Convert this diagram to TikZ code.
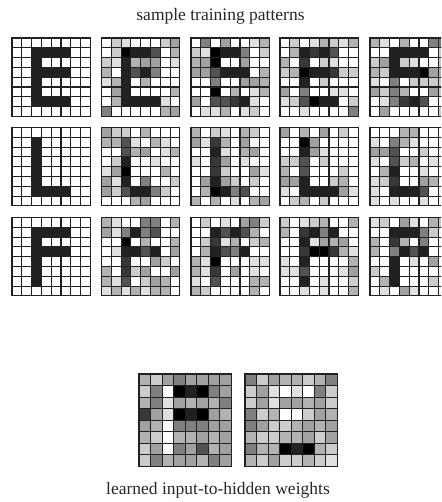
\documentclass[tikz,border=0pt]{standalone}
\usepackage{fontspec}
\setmainfont{Liberation Serif}
\usetikzlibrary{positioning}

% one 8x8 grid: x, y, cell size, 64 grey digits (0 black .. 9 white)
\newcommand{\patgrid}[4]{%
  \foreach \val [count=\idx from 0] in {#4} {
    \pgfmathsetmacro{\col}{int(mod(\idx,8))}
    \pgfmathsetmacro{\row}{int(\idx/8)}
    \pgfmathsetmacro{\shade}{{100,87,78,68,50,37,30,20,12,0}[\val]}
    \draw[cellbox, fill=black!\shade]
      ({#1+\col*#3},{#2+\row*#3}) rectangle ++(#3,#3);
  }%
}

\begin{document}
\begin{tikzpicture}[
  x=1pt, y=-1pt,
  font=\fontsize{17.5}{20}\selectfont,
  cellbox/.style={draw=black!87, line width=1.1pt},
  caption/.style={text=black!85, inner sep=0pt, anchor=base}
]
\path[use as bounding box, clip] (0,0) rectangle (441,502);

\node[caption] (top) at (220.5,21) {sample training patterns};

% E row
\patgrid{12}{38}{9.8}{9,9,9,9,9,9,9,9, 9,9,1,1,1,1,9,9, 9,9,1,9,9,9,9,9, 9,9,1,1,1,1,9,9, 9,9,1,9,9,9,9,9, 9,9,1,9,9,9,9,9, 9,9,1,1,1,1,9,9, 9,9,9,9,9,9,9,9}
\patgrid{101.5}{38}{9.8}{9,7,8,9,9,9,7,5, 9,7,0,1,1,3,9,6, 7,8,1,6,5,5,9,8, 6,9,1,3,1,4,9,9, 8,6,1,9,6,9,9,9, 9,5,1,9,9,9,9,6, 9,6,1,1,1,1,8,9, 4,9,9,9,9,9,6,5}
\patgrid{191}{38}{9.8}{9,4,9,5,9,9,8,6, 7,8,0,1,1,4,9,7, 6,5,0,9,9,5,9,9, 5,5,3,1,1,1,9,6, 9,9,4,9,9,5,5,6, 9,9,0,9,6,9,8,6, 5,9,3,3,2,1,8,9, 9,8,8,6,9,8,7,9}
\patgrid{280}{38}{9.8}{9,7,9,8,6,7,8,6, 9,6,1,2,1,3,9,9, 6,9,2,9,7,8,9,9, 7,6,0,1,1,2,7,7, 9,9,1,9,7,9,9,9, 5,9,4,9,9,8,8,9, 8,7,3,0,1,1,9,7, 9,9,8,9,9,9,9,4}
\patgrid{370}{38}{9.8}{6,8,9,6,9,9,4,4, 9,9,1,1,1,1,9,7, 7,5,1,7,8,9,9,7, 6,7,1,1,1,0,5,6, 8,9,4,9,7,7,7,7, 5,7,4,6,9,9,5,7, 9,8,4,2,1,3,9,9, 9,5,9,9,9,9,9,7}

% L row
\patgrid{12}{127.5}{9.8}{9,9,9,9,9,9,9,9, 9,9,1,9,9,9,9,9, 9,9,1,9,9,9,9,9, 9,9,1,9,9,9,9,9, 9,9,1,9,9,9,9,9, 9,9,1,9,9,9,9,9, 9,9,1,1,1,1,9,9, 9,9,9,9,9,9,9,9}
\patgrid{101.5}{127.5}{9.8}{5,7,7,9,6,9,9,9, 6,6,3,8,9,6,8,9, 9,9,3,6,5,9,8,6, 9,7,1,9,9,8,9,9, 8,5,0,9,9,9,6,9, 5,8,1,9,4,9,9,7, 5,7,3,1,1,4,7,9, 9,9,9,6,5,9,9,9}
\patgrid{191}{127.5}{9.8}{6,9,7,8,9,6,7,9, 5,8,2,6,9,5,9,9, 9,9,1,8,9,6,5,9, 8,9,2,5,9,8,9,9, 9,9,2,7,9,9,5,8, 9,5,1,5,7,9,7,9, 9,6,0,1,4,3,9,9, 6,9,6,9,8,9,6,5}
\patgrid{280}{127.5}{9.8}{5,9,6,9,5,9,7,9, 9,9,0,5,9,9,9,9, 9,9,1,5,8,9,9,9, 7,7,3,9,7,9,9,9, 6,9,3,9,9,9,7,9, 5,5,1,9,9,7,6,9, 8,9,1,1,1,1,5,8, 9,7,6,9,7,9,9,9}
\patgrid{370}{127.5}{9.8}{9,9,9,6,6,9,9,9, 8,9,4,6,8,9,9,9, 5,5,3,9,9,7,9,9, 8,9,3,7,6,9,8,9, 9,6,1,9,9,8,9,9, 8,7,2,9,9,5,6,9, 8,9,1,1,1,3,9,9, 8,9,8,9,9,8,9,9}

% F row
\patgrid{12}{217.5}{9.8}{9,9,9,9,9,9,9,9, 9,9,1,1,1,1,9,9, 9,9,1,9,9,9,9,9, 9,9,1,1,1,1,9,9, 9,9,1,9,9,9,9,9, 9,9,1,9,9,9,9,9, 9,9,1,9,9,9,9,9, 9,9,9,9,9,9,9,9}
\patgrid{101.5}{217.5}{9.8}{6,8,9,9,4,4,9,6, 5,8,4,1,4,3,9,9, 9,9,0,9,6,9,9,6, 9,8,1,1,3,1,9,5, 9,9,2,9,9,5,7,9, 6,9,2,7,5,9,9,5, 6,8,3,9,7,5,6,9, 8,6,8,6,8,6,6,9}
\patgrid{191}{217.5}{9.8}{9,7,9,8,9,5,4,7, 9,9,1,3,1,3,6,9, 9,7,2,8,6,9,7,6, 9,6,1,3,4,1,9,9, 6,8,0,9,9,9,8,8, 6,8,2,9,5,9,8,9, 8,9,3,9,9,9,6,6, 6,7,9,9,9,9,6,9}
\patgrid{280}{217.5}{9.8}{7,9,8,7,6,9,9,6, 6,9,2,1,4,1,9,9, 9,9,1,8,5,6,5,9, 9,9,2,0,0,2,6,8, 8,9,1,9,9,9,9,6, 8,8,3,9,9,9,8,5, 9,9,1,9,8,9,9,7, 9,9,8,9,8,9,9,6}
\patgrid{370}{217.5}{9.8}{8,7,9,5,8,9,6,7, 9,9,1,1,1,4,7,9, 6,9,2,6,9,4,9,9, 6,9,4,1,3,1,9,9, 9,9,1,9,8,9,5,9, 7,9,1,9,9,9,9,9, 9,6,1,9,9,9,7,9, 9,8,9,5,8,9,9,9}

% learned weights
\patgrid{139}{374}{11.55}{6,7,5,4,5,5,5,5, 7,4,9,0,1,0,4,5, 6,4,8,5,6,5,6,4, 2,5,8,0,1,0,5,6, 5,6,9,4,4,4,5,5, 6,7,9,6,6,5,6,5, 7,5,9,4,5,3,6,5, 7,4,6,5,5,6,4,5}
\patgrid{245}{374}{11.55}{4,7,5,6,6,7,6,4, 7,5,8,9,8,9,4,7, 7,5,8,5,5,6,5,7, 4,7,6,9,9,7,5,6, 4,5,7,7,6,5,6,5, 6,7,7,6,6,5,7,5, 4,6,6,0,1,0,6,7, 6,7,5,7,7,6,7,8}

\node[caption] (bottom) at (218,494) {learned input-to-hidden weights};
\end{tikzpicture}
\end{document}
